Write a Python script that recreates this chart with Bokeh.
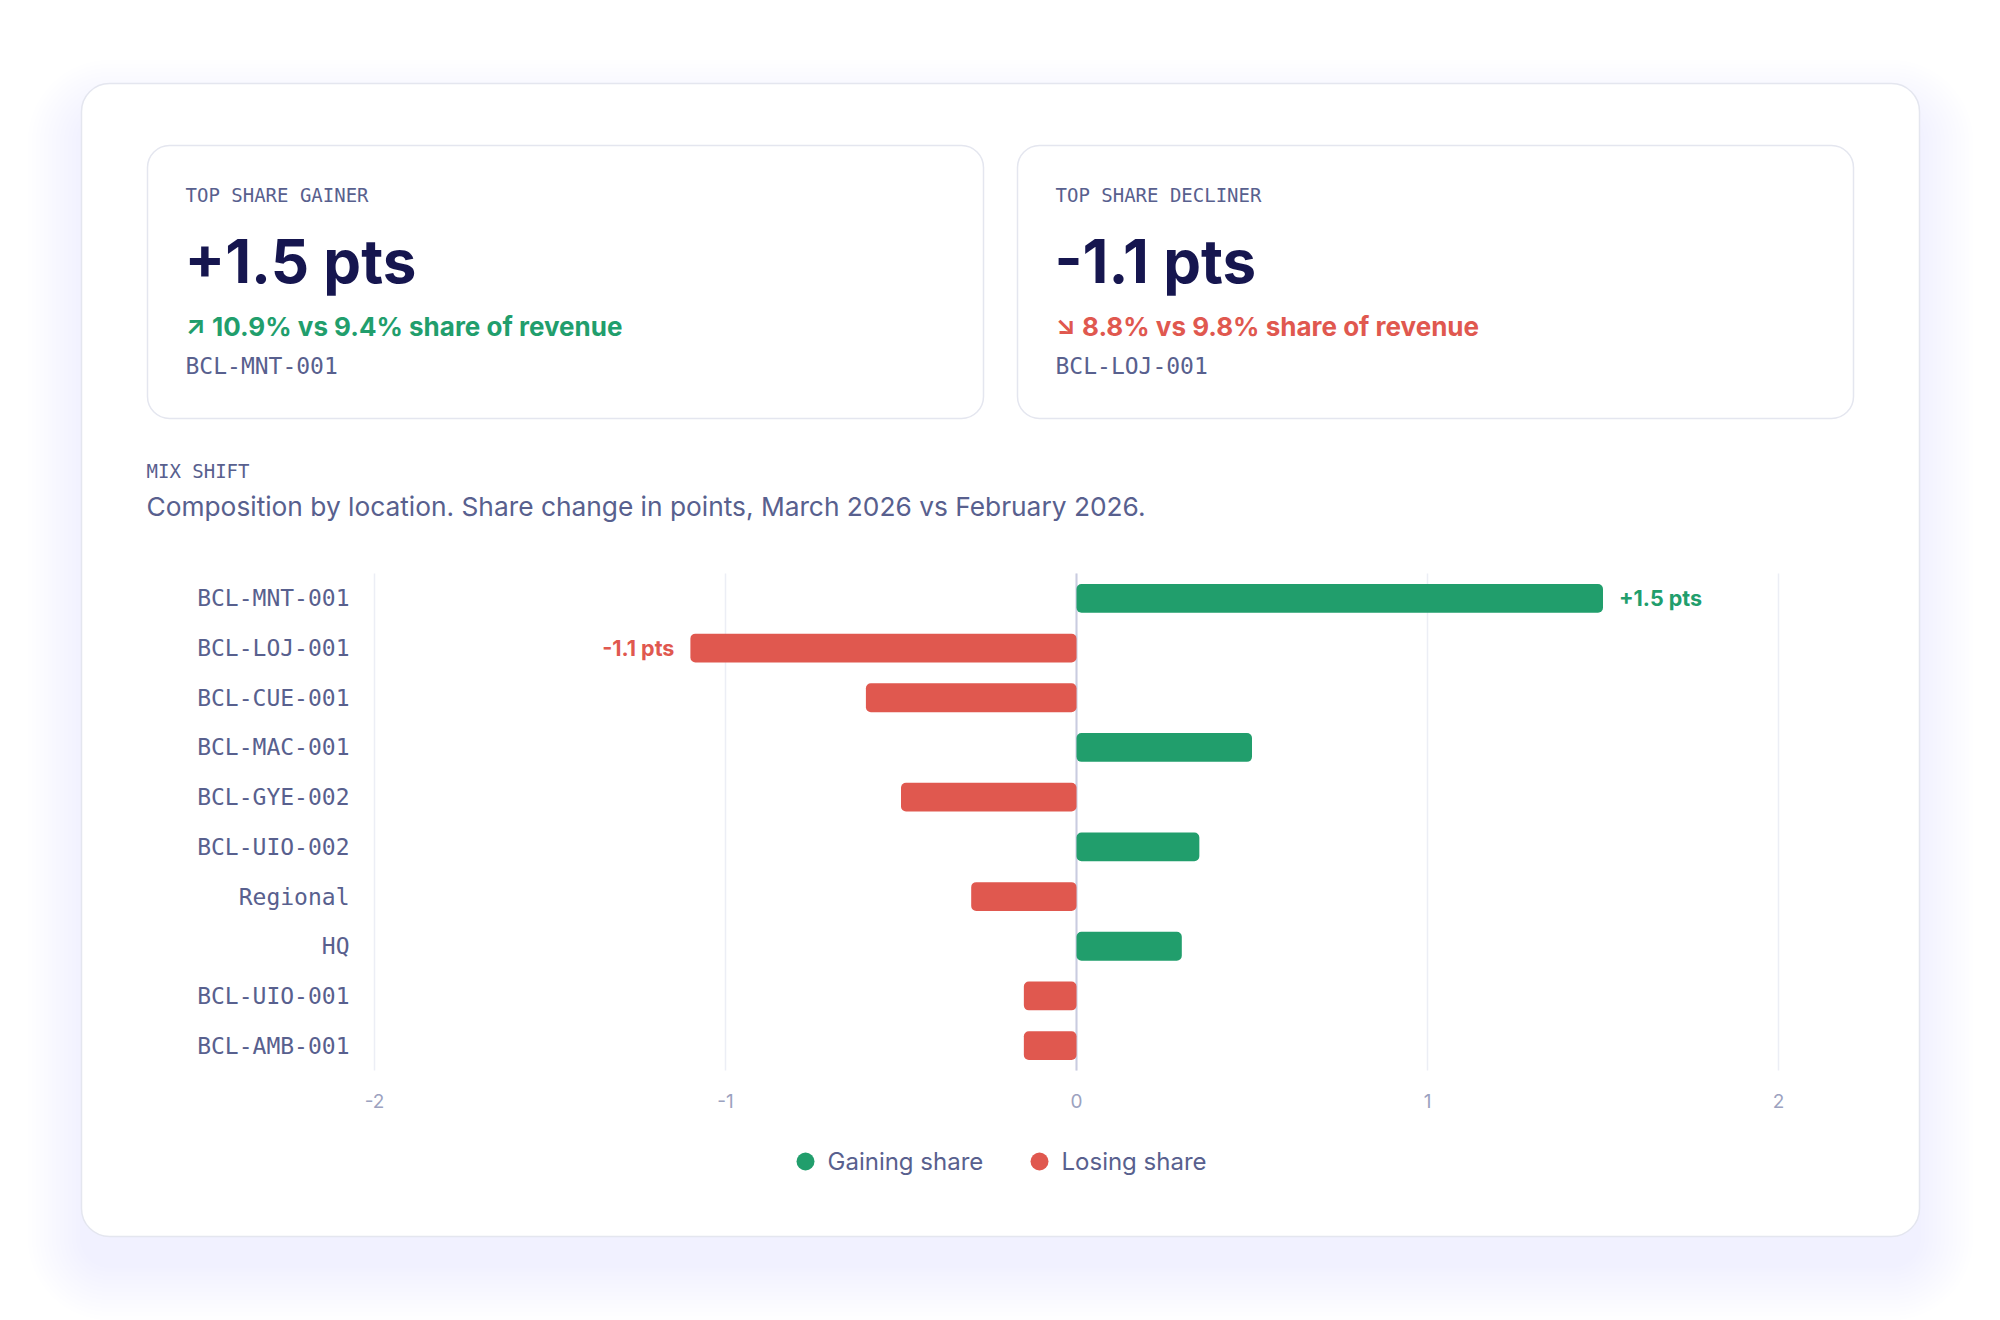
from bokeh.plotting import figure
from bokeh.models import (Range1d, BoxAnnotation, Label, FixedTicker, ColumnDataSource, Grid)
from bokeh.core.properties import value
from bokeh.embed import file_html
from bokeh.resources import INLINE

# ---- data -------------------------------------------------------------
locations = ["BCL-MNT-001", "BCL-LOJ-001", "BCL-CUE-001", "BCL-MAC-001", "BCL-GYE-002",
             "BCL-UIO-002", "Regional", "HQ", "BCL-UIO-001", "BCL-AMB-001"]
share_change = [1.5, -1.1, -0.6, 0.5, -0.5, 0.35, -0.3, 0.3, -0.15, -0.15]
x_ticks = [-2, -1, 0, 1, 2]
gainer_share = [10.9, 9.4]      # current month, prior month (% of revenue)
decliner_share = [8.8, 9.8]
periods = ["March 2026", "February 2026"]
legend_labels = ["Gaining share", "Losing share"]

# ---- style ------------------------------------------------------------
GREEN = "#219e6c"
RED = "#e0584f"
NAVY = "#16164f"
SLATE = "#58608e"
TICK = "#9ca2c0"
GRID = "#eceef5"
ZERO = "#c9cce0"
CARD_LINE = "#e4e6ef"
SHADOW = "#2a2f80"
SANS = "Inter"
MONO = "DejaVu Sans Mono"

W, H = 2000, 1320
# the bar area sits inside the page; the frame spans the whole canvas so the
# cards and headings can be drawn around it
BL, BR, BT, BB = 374, 1778, 573, 1070
n = len(locations)
rows = list(range(n))
x_unit = (BR - BL) / (x_ticks[-1] - x_ticks[0])
y_unit = (BB - BT) / n
x_start = x_ticks[0] - BL / x_unit
x_end = x_ticks[-1] + (W - BR) / x_unit
y_top = -0.5 - BT / y_unit
y_bottom = n - 0.5 + (H - BB) / y_unit

p = figure(width=W, height=H, output_backend="svg", toolbar_location=None,
           x_range=Range1d(x_start, x_end),
           y_range=Range1d(y_bottom, y_top),
           min_border=0, min_border_left=0, min_border_right=0,
           min_border_top=0, min_border_bottom=0,
           outline_line_color=None, background_fill_color="white",
           border_fill_color="white")


def sy(Y):
    return H - Y


def box(l, r, t, b, radius, fill="white", alpha=1.0, line=None, lw=1.5, level="image"):
    p.add_layout(BoxAnnotation(left=l, right=r, top=sy(t), bottom=sy(b),
                               left_units="screen", right_units="screen",
                               top_units="screen", bottom_units="screen",
                               fill_color=fill, fill_alpha=alpha,
                               line_color=line, line_width=lw, line_alpha=1.0,
                               border_radius=radius, level=level))


def label(text, X, Y, size, color, font=SANS, style="normal", align="left"):
    # Y is the wanted baseline on the canvas
    lift = (0.40 if font == MONO else 0.37) * size
    p.add_layout(Label(x=X, y=sy(Y - lift), x_units="screen", y_units="screen",
                       text=text, text_font=font, text_font_size=f"{size}px",
                       text_color=color, text_font_style=style,
                       text_align=align, text_baseline="alphabetic"))


# ---- outer card with a soft drop shadow -------------------------------
CL, CR, CT, CB = 81, 1919, 83, 1236
for i in range(14):
    e = 2 + i * 4
    box(CL - e, CR + e, CT + 30 - e, CB + 30 + e, 28 + e, fill=SHADOW, alpha=0.0048)
box(CL, CR, CT, CB, 28, line=CARD_LINE)

# ---- KPI cards --------------------------------------------------------
top_i = max(rows, key=lambda i: share_change[i])
low_i = min(rows, key=lambda i: share_change[i])

kpis = [
    (147, "TOP SHARE GAINER", share_change[top_i], gainer_share, "\u2197", GREEN, locations[top_i]),
    (1017, "TOP SHARE DECLINER", share_change[low_i], decliner_share, "\u2198", RED, locations[low_i]),
]
for x0, title, delta, shares, arrow, col, loc in kpis:
    box(x0, x0 + 836, 145, 418, 22, line=CARD_LINE)
    label(title, x0 + 38, 202, 19, SLATE, font=MONO)
    label(f"{delta:+.1f} pts", x0 + 37, 283, 60, NAVY, style="bold")
    label(f"{arrow} {shares[0]:.1f}% vs {shares[1]:.1f}% share of revenue",
          x0 + 38, 336, 26, col, style="bold")
    label(loc, x0 + 38, 375, 23, SLATE, font=MONO)

# ---- section heading ---------------------------------------------------
label("MIX SHIFT", 146, 478, 19, SLATE, font=MONO)
label(f"Composition by location. Share change in points, {periods[0]} vs {periods[1]}.",
      146, 516, 26.3, SLATE)

# ---- grid lines limited to the bar area --------------------------------
p.xgrid.ticker = FixedTicker(ticks=x_ticks)
p.xgrid.grid_line_color = GRID
p.xgrid.grid_line_width = 1.5
p.ygrid.grid_line_color = None
zero_grid = Grid(dimension=0, ticker=FixedTicker(ticks=[0]),
                 grid_line_color=ZERO, grid_line_width=2)
p.add_layout(zero_grid)
for g in (p.xgrid[0], zero_grid):
    g.cross_bounds = (-0.5, n - 0.5)

# ---- bars -------------------------------------------------------------
src = ColumnDataSource(dict(
    row=rows,
    x0=[min(0, v) for v in share_change],
    x1=[max(0, v) for v in share_change],
    color=[GREEN if v > 0 else RED for v in share_change],
))
p.hbar(y="row", left="x0", right="x1", height=0.58, fill_color="color",
       line_color=None, border_radius=5, source=src)

# value callouts for the largest gain and loss
for i, align, off, col in [(top_i, "left", 16, GREEN), (low_i, "right", -16, RED)]:
    p.text(x=[share_change[i]], y=[rows[i]], text=[f"{share_change[i]:+.1f} pts"],
           x_offset=off, text_align=align, text_baseline="middle",
           text_font=value(SANS), text_font_size="21.5px", text_font_style="bold",
           text_color=col)

# ---- axes -------------------------------------------------------------
xa = p.xaxis[0]
xa.fixed_location = n - 0.5
xa.ticker = FixedTicker(ticks=x_ticks)
xa.major_label_overrides = {t: str(t) for t in x_ticks}
xa.axis_line_color = None
xa.major_tick_line_color = None
xa.minor_tick_line_color = None
xa.major_tick_out = 0
xa.major_tick_in = 0
xa.major_label_standoff = 23
xa.major_label_text_font = SANS
xa.major_label_text_font_size = "19px"
xa.major_label_text_color = TICK

ya = p.yaxis[0]
ya.fixed_location = x_ticks[0]
ya.ticker = FixedTicker(ticks=rows)
ya.major_label_overrides = {r: name for r, name in zip(rows, locations)}
ya.axis_line_color = None
ya.major_tick_line_color = None
ya.minor_tick_line_color = None
ya.major_tick_out = 0
ya.major_tick_in = 0
ya.major_label_standoff = 25
ya.major_label_text_font = MONO
ya.major_label_text_font_size = "23px"
ya.major_label_text_color = SLATE

# ---- legend: colour dot + label for each sign --------------------------
LEG_Y = 1161
for (dot_x, text_x), name, col in zip([(805, 827), (1039, 1061)], legend_labels, [GREEN, RED]):
    box(dot_x - 9, dot_x + 9, LEG_Y - 9, LEG_Y + 9, 9, fill=col, level="annotation")
    label(name, text_x, LEG_Y + 8.5, 24, SLATE)

open("out.html", "w").write(file_html(p, INLINE))
